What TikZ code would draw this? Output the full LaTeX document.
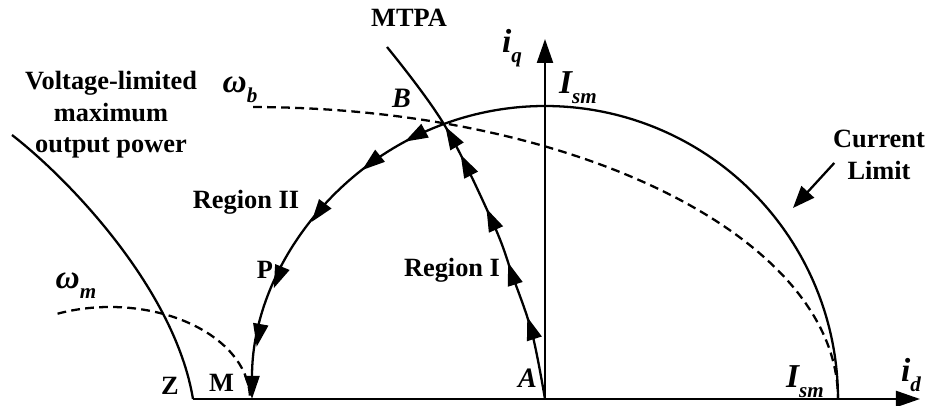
\documentclass[tikz,border=0pt]{standalone}
\usepackage{fontspec}
\setmainfont{Liberation Serif}
\usetikzlibrary{arrows.meta,decorations.markings}

\newcommand{\sublbl}[2]{\fontsize{19}{21}\selectfont\bfseries\itshape #1\raisebox{-0.65ex}{\fontsize{12}{14}\selectfont #2}}

\tikzset{
  flowtip/.tip={Triangle[length=0.46cm,width=0.3cm]},
  curve/.style={line width=1.3pt, black},
  speed/.style={line width=1.3pt, dash pattern=on 5pt off 3pt},
  axis/.style={line width=1.3pt, -{Triangle[length=0.48cm,width=0.32cm]}},
  lbl/.style={font=\fontsize{15}{18}\selectfont\bfseries, inner sep=0pt},
  ilbl/.style={font=\fontsize{16}{18}\selectfont\bfseries\itshape, inner sep=0pt},
  flowmark/.style={postaction={decorate, decoration={markings,
      mark=at position #1 with {\arrow{flowtip}}}}}
}

\begin{document}
\begin{tikzpicture}
\useasboundingbox (-10.9,-0.14) rectangle (7.62,7.98);

\coordinate (O) at (0,0);
\coordinate (B) at (110.2:5.86);
\coordinate (M) at (-5.86,0);
\coordinate (Z) at (-7.04,0);
\coordinate (R) at (5.86,0);
\coordinate (dtip) at (7.5,0);
\coordinate (qtip) at (0,7.2);

% axes
\draw[axis] (Z) -- (dtip);
\draw[axis] (O) -- (qtip);

% current limit circle
\draw[curve] (R) arc (0:110.2:5.86);
\draw[curve, -{flowtip}, flowmark=0.12, flowmark=0.264, flowmark=0.468,
  flowmark=0.682, flowmark=0.853] (B) arc (110.2:180:5.86);

% MTPA
\draw[curve, flowmark=0.215, flowmark=0.363, flowmark=0.512, flowmark=0.665,
  flowmark=0.747] plot[smooth, tension=0.6] coordinates
  {(O) (-0.26,1.32) (-0.64,2.44) (-1.04,3.52) (B) (-3.16,7.04)};

% speed curves
\draw[speed] (-5.9,0) ++(89.7:11.76 and 5.84)
  arc [start angle=89.7, end angle=0, x radius=11.76, y radius=5.84];
\draw[speed] (-8.7,0) ++(112:2.8 and 1.84)
  arc [start angle=112, end angle=0, x radius=2.8, y radius=1.84];

% voltage limited maximum output power
\draw[curve] (-10.66,5.28) .. controls (-9.5,4.38) and (-7.4,2.18) .. (Z);

% labels
\node[lbl] (mtpa) at (-2.72,7.62) {MTPA};
\node[lbl, align=center] (vlim) at (-8.68,5.68) {Voltage-limited\\maximum\\output power};
\node[lbl, align=center] (clim) at (6.68,4.88) {Current\\Limit};
\coordinate (cltip) at (4.96,3.82);
\draw[line width=1.3pt, -{Triangle[length=0.44cm,width=0.34cm]}]
  ([shift={(0.03,-0.16)}]clim.west) -- (cltip);

\node[lbl] (reg2) at (-5.98,3.94) {Region II};
\node[lbl] (reg1) at (-1.86,2.58) {Region I};
\node[lbl] (ptP) at (-5.6,2.59) {P};
\node[lbl] (ptZ) at (-7.5,0.26) {Z};
\node[lbl] (ptM) at (-6.47,0.33) {M};
\node[ilbl] (ptA) at (-0.35,0.42) {A};
\node[ilbl] (ptB) at (-2.87,6.01) {B};

\node[inner sep=0pt] (wb) at (-6.1,6.19) {\sublbl{ω}{b}};
\node[inner sep=0pt] (wm) at (-9.38,2.26) {\sublbl{ω}{m}};
\node[inner sep=0pt] (ismtop) at (0.66,6.22) {\sublbl{I}{sm}};
\node[inner sep=0pt] (ismbot) at (5.2,0.34) {\sublbl{I}{sm}};
\node[inner sep=0pt] (iq) at (-0.66,7.02) {\sublbl{i}{q}};
\node[inner sep=0pt] (id) at (7.32,0.48) {\sublbl{i}{d}};

\end{tikzpicture}
\end{document}
